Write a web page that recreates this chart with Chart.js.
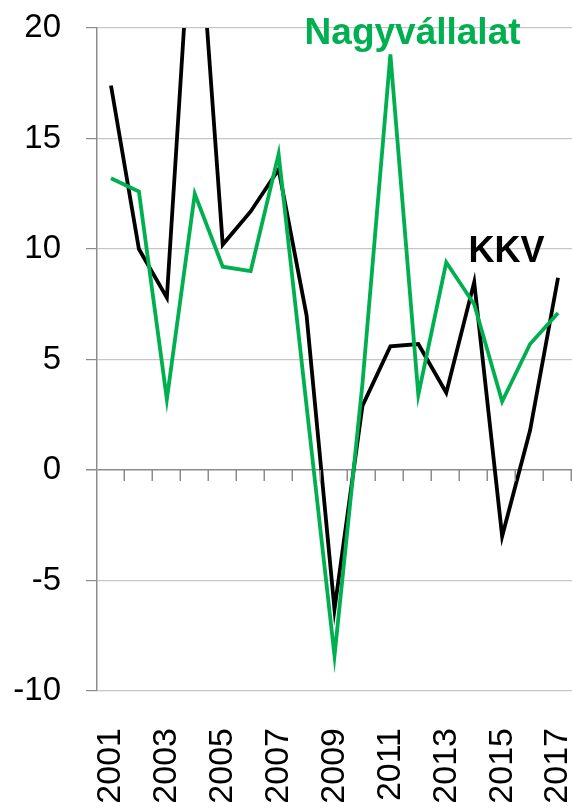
<!DOCTYPE html>
<html>
<head>
<meta charset="utf-8">
<script src="https://cdn.jsdelivr.net/npm/chart.js@4.4.1/dist/chart.umd.min.js"></script>
<style>
  html, body { margin: 0; padding: 0; background: #ffffff; }
  #wrap { width: 573px; height: 808px; position: relative; }
</style>
</head>
<body>
<div id="wrap"><canvas id="c"></canvas></div>
<script>
const years = ['2001','2002','2003','2004','2005','2006','2007','2008','2009','2010','2011','2012','2013','2014','2015','2016','2017'];
const kkv = [17.4, 10.0, 7.8, 27.7, 10.2, 11.7, 13.6, 7.0, -6.3, 2.9, 5.6, 5.7, 3.5, 8.5, -3.0, 1.8, 8.7];
const nagyvallalat = [13.2, 12.6, 3.2, 12.5, 9.2, 9.0, 14.3, 2.9, -8.4, 3.9, 18.8, 3.4, 9.4, 7.5, 3.1, 5.7, 7.1];
const yTicks = [-10, -5, 0, 5, 10, 15, 20];

const FONT = '"Liberation Sans", Arial, sans-serif';
const GREEN = '#00b050';
const AXIS_GRAY = '#8c8c8c';
const GRID_GRAY = '#c6c6c6';

// text annotations, positioned in data units (category index, value)
const annotations = [
  { text: 'Nagyvállalat', x: 6.93, y: 19.28, color: GREEN, size: 37 },
  { text: 'KKV', x: 12.8, y: 9.43, color: '#000000', size: 36 }
];

const zeroTicksPlugin = {
  id: 'zeroTicks',
  afterDatasetsDraw(chart) {
    const xs = chart.scales.x, ys = chart.scales.y;
    const ctx = chart.ctx;
    const y0 = ys.getPixelForValue(0);
    const half = (xs.getPixelForValue(1) - xs.getPixelForValue(0)) / 2;
    ctx.save();
    ctx.strokeStyle = AXIS_GRAY;
    ctx.lineWidth = 1.5;
    ctx.beginPath();
    for (let i = 0; i < years.length; i++) {
      const x = Math.round(xs.getPixelForValue(i) + half) - 0.75;
      ctx.moveTo(x, y0);
      ctx.lineTo(x, y0 + 11);
    }
    ctx.stroke();
    annotations.forEach(a => {
      ctx.font = 'bold ' + a.size + 'px ' + FONT;
      ctx.fillStyle = a.color;
      ctx.textAlign = 'left';
      ctx.textBaseline = 'alphabetic';
      ctx.fillText(a.text, xs.getPixelForValue(a.x), ys.getPixelForValue(a.y));
    });
    ctx.restore();
  }
};

new Chart(document.getElementById('c'), {
  type: 'line',
  data: {
    labels: years,
    datasets: [
      { label: 'Nagyvállalat', data: nagyvallalat, borderColor: GREEN, borderWidth: 3.8, pointRadius: 0, tension: 0, fill: false },
      { label: 'KKV', data: kkv, borderColor: '#000000', borderWidth: 3.8, pointRadius: 0, tension: 0, fill: false }
    ]
  },
  options: {
    responsive: true,
    maintainAspectRatio: false,
    devicePixelRatio: 1,
    animation: false,
    layout: { padding: { top: 28, right: 1, left: 0, bottom: 0 } },
    plugins: { legend: { display: false }, tooltip: { enabled: false } },
    scales: {
      x: {
        offset: true,
        grid: { display: false, drawTicks: false, tickLength: 0 },
        border: { display: false },
        ticks: {
          autoSkip: false,
          minRotation: 90,
          maxRotation: 90,
          padding: 37,
          color: '#000000',
          font: { family: FONT, size: 34 },
          callback: (v, i) => (i % 2 === 0 ? years[i] : '')
        },
        afterFit: (s) => { s.height = 117; s.paddingLeft = 0; s.paddingRight = 0; }
      },
      y: {
        min: -10,
        max: 20,
        afterBuildTicks: (s) => { s.ticks = yTicks.map(v => ({ value: v })); },
        grid: {
          color: (c) => (c.tick && c.tick.value === 0 ? AXIS_GRAY : GRID_GRAY),
          lineWidth: (c) => (c.tick && c.tick.value === 0 ? 1.5 : 1.2),
          tickColor: AXIS_GRAY,
          tickLength: 11,
          drawTicks: true
        },
        border: { display: true, color: AXIS_GRAY, width: 1.5 },
        ticks: {
          padding: 25,
          color: '#000000',
          font: { family: FONT, size: 33 }
        },
        afterFit: (s) => { s.width = 97; s.paddingTop = 0; s.paddingBottom = 0; }
      }
    }
  },
  plugins: [zeroTicksPlugin]
});
</script>
</body>
</html>
